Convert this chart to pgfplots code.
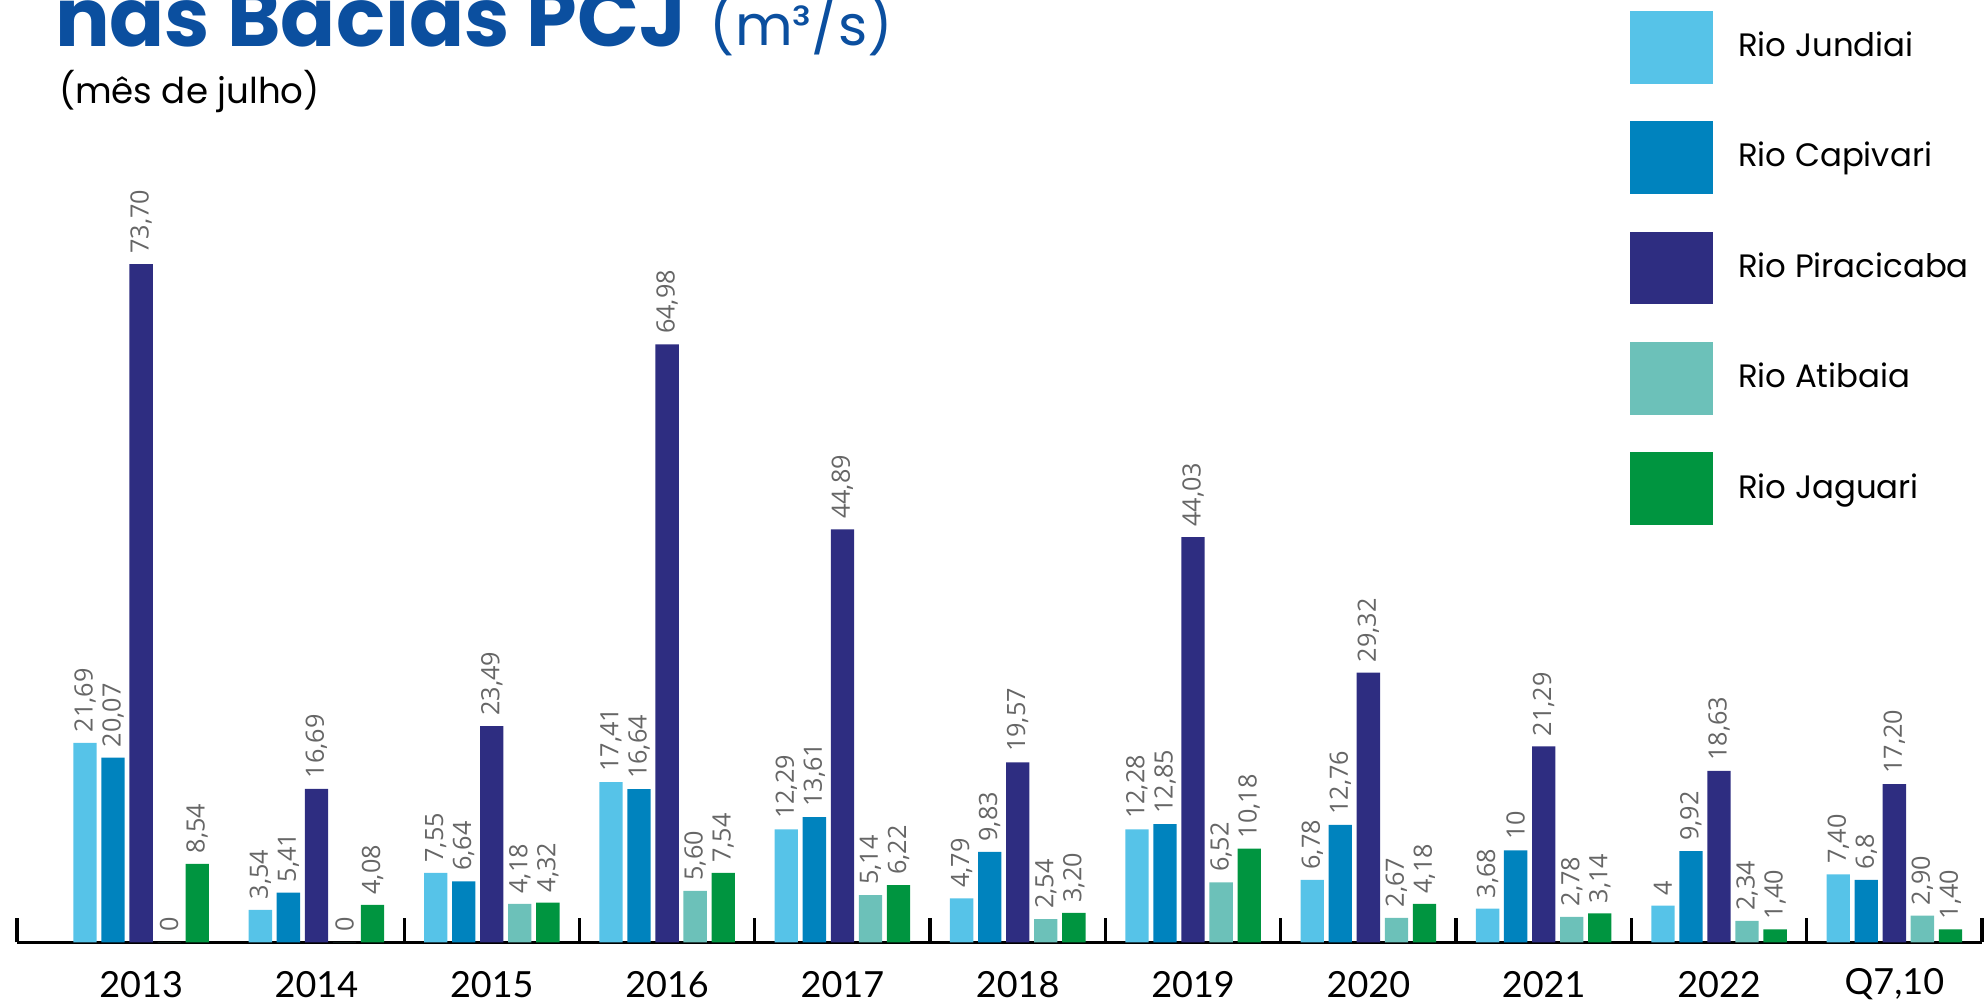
\documentclass[border=0pt]{standalone}
\usepackage{fontspec}
\setmainfont{Lato}
\newfontfamily\pop{Poppins}
\newfontfamily\osans{Open Sans}
\usepackage{pgfplots}
\usepackage{pgfplotstable}
\pgfplotsset{compat=1.18}
\definecolor{cjun}{HTML}{56C3E8}
\definecolor{ccap}{HTML}{0083BE}
\definecolor{cpir}{HTML}{2E2D81}
\definecolor{catb}{HTML}{6CC1B9}
\definecolor{cjag}{HTML}{009540}
\definecolor{titleblue}{HTML}{0B4F9F}
\definecolor{lblgrey}{HTML}{666666}

% x: 0=2013 ... 9=2022, 10=Q7,10
\pgfplotstableread{
x y lbl
0 21.69 21,69
1 3.54 3,54
2 7.55 7,55
3 17.41 17,41
4 12.29 12,29
5 4.79 4,79
6 12.28 12,28
7 6.78 6,78
8 3.68 3,68
9 4 4
10 7.40 7,40
}\jundiai
\pgfplotstableread{
x y lbl
0 20.07 20,07
1 5.41 5,41
2 6.64 6,64
3 16.64 16,64
4 13.61 13,61
5 9.83 9,83
6 12.85 12,85
7 12.76 12,76
8 10 10
9 9.92 9,92
10 6.8 6,8
}\capivari
\pgfplotstableread{
x y lbl
0 73.70 73,70
1 16.69 16,69
2 23.49 23,49
3 64.98 64,98
4 44.89 44,89
5 19.57 19,57
6 44.03 44,03
7 29.32 29,32
8 21.29 21,29
9 18.63 18,63
10 17.20 17,20
}\piracicaba
\pgfplotstableread{
x y lbl
0 0 0
1 0 0
2 4.18 4,18
3 5.60 5,60
4 5.14 5,14
5 2.54 2,54
6 6.52 6,52
7 2.67 2,67
8 2.78 2,78
9 2.34 2,34
10 2.90 2,90
}\atibaia
\pgfplotstableread{
x y lbl
0 8.54 8,54
1 4.08 4,08
2 4.32 4,32
3 7.54 7,54
4 6.22 6,22
5 3.20 3,20
6 10.18 10,18
7 4.18 4,18
8 3.14 3,14
9 1.40 1,40
10 1.40 1,40
}\jaguari

\pgfplotsset{legbox/.style={legend image code/.code={\fill[##1] (0pt,-9.1pt) rectangle (20.75pt,9.1pt);}}}

\begin{document}
\begin{tikzpicture}
\begin{axis}[
    name=ax, at={(0,0)}, anchor=south west,
    scale only axis, width=491.25pt, height=235.6pt,
    xmin=-0.708, xmax=10.5, ymin=0, ymax=102.4,
    enlargelimits=false, clip=false,
    axis x line=bottom, axis y line=none,
    x axis line style={-, line width=0.85pt, black},
    ybar, bar width=0.133,
    xtick={0,...,10},
    xticklabels={2013,2014,2015,2016,2017,2018,2019,2020,2021,2022,{Q7,10}},
    major tick length=0pt, tick align=inside,
    xticklabel style={font=\fontsize{9}{10}\selectfont, anchor=center, yshift=-10.5pt, inner sep=0pt},
    extra x ticks={-0.708,1.5,2.5,3.5,4.5,5.5,6.5,7.5,8.5,9.5,10.5},
    extra x tick labels={},
    extra x tick style={major tick length=6pt, tick style={draw=black, line width=0.8pt}},
    nodes near coords, point meta=explicit symbolic,
    nodes near coords style={rotate=90, anchor=west, inner sep=2.4pt,
        font=\osans\fontsize{6.3}{7}\selectfont, text=lblgrey},
    legend style={at={(0.8209,0.9886)}, anchor=north west, draw=none, fill=none,
        inner sep=0pt, outer sep=0pt, row sep=9.4pt, column sep=6.25pt,
        nodes={inner sep=0pt}, font=\pop\fontsize{8.1}{10}\selectfont},
    legend cell align=left,
]
\addplot[fill=cjun, draw=none, bar shift=-0.32, legbox] table[x=x, y=y, meta=lbl] {\jundiai};
\addplot[fill=ccap, draw=none, bar shift=-0.16, legbox] table[x=x, y=y, meta=lbl] {\capivari};
\addplot[fill=cpir, draw=none, bar shift=0, legbox] table[x=x, y=y, meta=lbl] {\piracicaba};
\addplot[fill=catb, draw=none, bar shift=0.16, legbox] table[x=x, y=y, meta=lbl] {\atibaia};
\addplot[fill=cjag, draw=none, bar shift=0.32, legbox] table[x=x, y=y, meta=lbl] {\jaguari};
\legend{Rio Jundiai, Rio Capivari, Rio Piracicaba, Rio Atibaia, Rio Jaguari}
\end{axis}
\node[anchor=base west, inner sep=0pt, text=titleblue, font=\pop\bfseries\fontsize{20.3}{24}\selectfont]
    at ([xshift=9.3pt, yshift=223.9pt]ax.south west) {nas Bacias PCJ};
\node[anchor=base west, inner sep=0pt, text=titleblue, font=\pop\fontsize{14}{17}\selectfont]
    at ([xshift=173pt, yshift=224.3pt]ax.south west) {(m³/s)};
\node[anchor=base west, inner sep=0pt, text=black, font=\pop\fontsize{8.9}{10}\selectfont]
    at ([xshift=10.3pt, yshift=209.6pt]ax.south west) {(mês de julho)};
\pgfresetboundingbox
\path[use as bounding box] ([xshift=-4.25pt, yshift=-15.2pt]ax.south west)
    rectangle ([xshift=491.75pt, yshift=235.6pt]ax.south west);
\end{tikzpicture}
\end{document}
